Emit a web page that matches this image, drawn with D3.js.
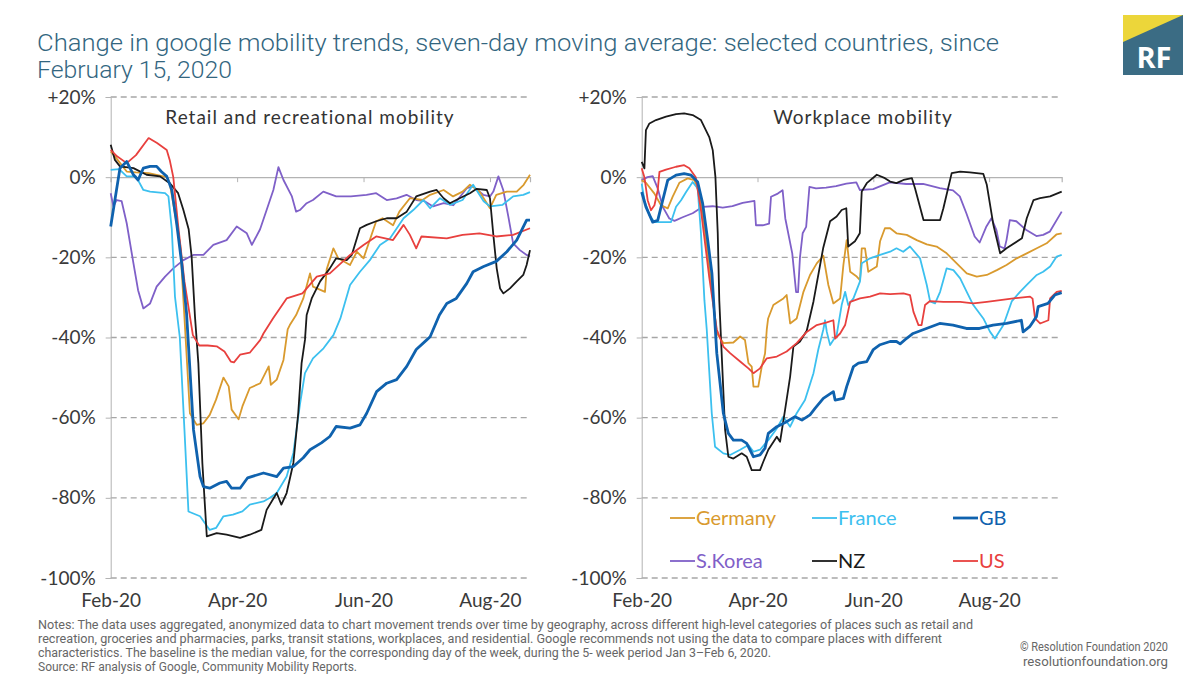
<!DOCTYPE html>
<html><head><meta charset="utf-8">
<script src="https://cdn.jsdelivr.net/npm/d3@7"></script>
<style>
html,body{margin:0;padding:0;background:#fff;}
svg{display:block;}
</style></head>
<body>
<svg id="chart" width="1200" height="675"></svg>
<script>
// ---------- DATA (days since 15 Feb 2020, % change) ----------
const countries = ["Germany","France","GB","S.Korea","NZ","US"];
const colors = ["#d99a2e","#3cc0ef","#0f62ae","#7f60c8","#1a1a1a","#e8403e"];
const yTicks = [20,0,-20,-40,-60,-80,-100];
const yTickLabels = ["+20%","0%","-20%","-40%","-60%","-80%","-100%"];
const xTickDays = [0,60,120,180];

const retailGermany = [[0,6.4],[3,4.5],[7.6,1.4],[12,1.2],[18,1],[26.6,0],[28,-1.5],[30.5,-9],[33,-17],[35,-35],[37.6,-58.9],[40.8,-61.8],[44,-61.4],[47,-59.3],[50,-55.5],[53.5,-50],[56,-52.2],[57.4,-58],[60.7,-60.4],[62.5,-57.2],[66,-52.6],[71,-51.4],[75,-47.2],[76,-51.8],[78.8,-50.5],[82,-45.6],[84,-38],[85,-36.9],[88,-34.4],[91.4,-30.25],[94.6,-24],[96,-27.3],[101.7,-28.6],[102.5,-23],[105.7,-17.75],[108,-20.25],[113.6,-21.9],[116.8,-18.6],[120,-20.25],[126,-11],[129,-10.25],[134,-12],[137,-8.6],[142,-5.25],[148,-5.7],[151.6,-4.4],[158,-3.2],[162.5,-4.8],[167,-3.6],[170.5,-1.9],[175,-3.6],[180,-7.75],[183,-4.4],[188,-3.6],[192.7,-3.6],[196,-1.9],[199,0.6]];
const retailFrance = [[0,1.8],[4,2],[7.6,0.2],[12,0.2],[15.5,-3.2],[18.7,-3.6],[25.8,-4],[27.4,-4.8],[29,-13],[30.5,-29.8],[32.8,-40],[35,-63],[36.9,-83.4],[42.4,-84.6],[47,-88],[50,-87.5],[53.5,-84.6],[58,-84.2],[62.5,-83.4],[66,-81.7],[72.5,-80.9],[75.6,-80],[78.8,-78.8],[83.5,-74.7],[86.7,-68.8],[89.9,-56.4],[92.2,-48.9],[96,-45.2],[101,-42.7],[105.7,-39.4],[109,-35.25],[113.6,-26.9],[118.3,-23.6],[123,-20.7],[127.8,-16.9],[132.6,-15.25],[139,-10.25],[143.6,-8.2],[148.4,-5.7],[151.6,-7.75],[156.3,-5.25],[161,-6.9],[167,-5.7],[172,-1.9],[177,-6],[180,-7.3],[186,-6.9],[191,-4.8],[195.8,-4.4],[199,-3.75]];
const retailGB = [[0,-12.3],[4.4,2.25],[7.6,3.9],[10.8,0.6],[13,-0.7],[15.5,2.25],[18.7,2.7],[21.8,2.7],[24,1.4],[26.6,0.2],[29,-3.2],[31.3,-11.5],[33.7,-21.5],[36,-34],[39.3,-63],[42.4,-74.7],[44,-77.2],[47,-77.6],[51.8,-76.3],[55,-75.9],[57.4,-77.6],[61.4,-77.6],[65,-75],[72.5,-73.8],[78.8,-74.7],[82,-72.6],[86.7,-72.2],[91.4,-70],[94.6,-68],[100,-66.3],[104,-64.7],[107,-62.2],[113.6,-62.6],[118.3,-61.8],[121.5,-58.9],[126.2,-53.5],[131,-51.4],[135.7,-50.5],[140.5,-47.2],[145,-43],[150,-40.6],[151.6,-39.8],[156,-34.4],[159.5,-31.5],[164,-30.25],[169,-26.5],[172,-23.6],[177,-22.3],[183,-21],[188,-18.6],[192.7,-15.7],[197.4,-10.7],[199,-10.7]];
const retailSKorea = [[0,-4],[1.3,-7.3],[2.8,-5.7],[5.2,-6],[7.6,-11.5],[10.8,-21.5],[13,-28.2],[15.5,-32.75],[18.7,-31.5],[21.8,-27.3],[25.8,-24.8],[29.7,-22.75],[34.5,-20.7],[39.2,-19.4],[44,-19.4],[48.7,-16.9],[55,-15.7],[59.8,-12.3],[64.6,-14],[67,-16.9],[70.9,-13],[74,-8.2],[77.2,-3.2],[79.6,2.5],[82,-0.7],[86,-4.8],[88,-8.6],[89.8,-8.2],[93,-6.5],[96,-5.7],[100.9,-3.6],[107,-4.8],[114,-4.8],[121.4,-4.4],[126,-4],[131,-5.7],[135.7,-5.3],[140.4,-4.4],[145,-5.7],[149,-6],[153,-7.3],[158,-6.5],[162.6,-7],[169,-2.75],[172,-2.3],[176.8,-4.4],[180,-4.8],[181.6,-3.6],[184,0.2],[186.3,-3.2],[188.7,-9.8],[191,-16.5],[194.2,-18.2],[197.4,-19.4],[199,-19.8]];
const retailNZ = [[0,8.1],[2,4.3],[4.4,2.7],[10.8,2.25],[17,0.6],[23.4,0.2],[28,-1.5],[32,-4],[34.5,-8.2],[37,-13],[38.4,-19.8],[40,-34.8],[41.6,-46.4],[43.5,-71.3],[45.6,-89.6],[50.3,-88.8],[55,-89.2],[61.4,-90],[66,-89.2],[71.5,-88],[74,-83],[78.8,-78.8],[81,-81.7],[83.5,-78.8],[86.7,-71.3],[89,-58.9],[90.6,-46.4],[92.2,-40.6],[93,-34.4],[95.4,-30.25],[99.4,-26],[104,-22.75],[107,-20.25],[112,-20.7],[114.4,-19.4],[118.3,-12.75],[121.5,-11.9],[126,-11],[131,-10.25],[135.7,-10.25],[140.5,-8.6],[145,-4.8],[151.6,-3.6],[154.7,-3.2],[158,-5.25],[161,-6.5],[165.6,-5.25],[170.5,-4],[173.7,-2.9],[178.5,-3.2],[180,-5.25],[181.6,-14.4],[183.2,-22.75],[184.8,-27.75],[186.4,-29],[189.5,-27.75],[192.7,-26],[195.8,-24.4],[197.4,-21.9],[199,-18.2]];
const retailUS = [[0,6.8],[3,5.2],[7.6,3.5],[12,5.5],[18,9.75],[22,8.5],[26.6,6.8],[28,4.3],[29.7,0],[32,-12],[35,-26],[39,-39.4],[42,-42],[46,-42],[50.3,-42.2],[54,-43.5],[57,-46],[58.5,-46.2],[61.4,-44.3],[66,-43.8],[71,-40.6],[72.5,-39],[77,-35.25],[83.5,-30.25],[91,-29],[97.8,-24.8],[104,-24],[113.6,-19.4],[120,-16.9],[126,-14.8],[134,-15.7],[139,-11.9],[142,-14.4],[145,-17.75],[147.5,-14.8],[159.5,-15.25],[167,-14.4],[175,-14],[183,-14.8],[191,-14.4],[199,-12.75]];

const workGermany = [[0,-0.75],[2.2,-1.4],[6.6,-4.1],[10,-7],[13.5,-7.8],[16,-4.9],[19.5,-1.4],[23.8,-0.3],[27.3,-0.75],[29.9,-4.1],[32.5,-12.4],[35,-22.4],[38.9,-38.9],[42.3,-41.4],[47.5,-41.25],[51,-39.75],[53.5,-40.6],[55.3,-46.4],[57,-47.25],[57.9,-52.25],[60.4,-52.25],[62.2,-47.25],[63.9,-44],[64.8,-38],[65.5,-35.25],[68.2,-31.9],[73.4,-30.25],[75.1,-29.4],[76.9,-36.5],[80.3,-35.25],[83.8,-28.6],[87.2,-24.4],[90.7,-21.5],[94.1,-19.6],[96.7,-26.9],[99.3,-31.5],[102.8,-30.25],[104.5,-21.9],[106.2,-15.7],[108,-23.6],[111.4,-24.8],[113.1,-25.7],[114,-17.75],[115.7,-17.75],[117.4,-23.6],[121.8,-22.3],[123.5,-16],[126,-12.75],[128.7,-12.75],[132,-14],[137.3,-14.4],[142.5,-15.7],[147.7,-16.75],[152.8,-17.3],[158,-19],[163.2,-21.5],[168.4,-24],[173.6,-24.8],[178.8,-24.4],[184,-23.2],[189,-21.9],[194.3,-20.25],[199.5,-19],[204.7,-17.75],[209.8,-16.5],[215,-14.25],[217.6,-14]];
const workFrance = [[0,-1.6],[1.4,-5.75],[4,-9.5],[6.6,-11.2],[10.9,-11.2],[15.2,-11.2],[17.8,-7.4],[20.4,-5.75],[23,-3.7],[26.4,-1.2],[29,-2.8],[30.7,-14],[32.5,-30.75],[33.7,-38],[36.3,-58.9],[38,-67.25],[42.3,-68.9],[45.8,-69.3],[51,-68],[55.3,-66.8],[57.9,-68.5],[61.3,-68],[65.6,-65.6],[70,-62.7],[73.4,-59.75],[76.9,-62.25],[80.3,-58.9],[84.6,-55.6],[89,-48.9],[91.5,-43],[94.1,-38],[95,-35.7],[95.9,-38.6],[97.6,-41.9],[101,-39.4],[103.6,-31.9],[105.4,-28.6],[107,-31.9],[109.7,-30.25],[113.1,-26],[114,-21.5],[118.3,-20.25],[123.5,-19.4],[128.7,-18.6],[132,-17.75],[135.5,-18.6],[139,-17.3],[144.2,-20.25],[147.7,-26.9],[149.4,-31],[152,-31.5],[154.6,-28.6],[158,-22.75],[161.5,-23.2],[165,-25.25],[168.4,-28.6],[171.8,-31.9],[177,-35.25],[180.5,-38.6],[183,-40.25],[187.4,-36.9],[191.7,-31],[196,-28.6],[199.5,-26.9],[204.7,-24.4],[208,-23.6],[211.6,-22.3],[215,-19.8],[217.6,-19.4]];
const workGB = [[0,-3.7],[2.2,-7.4],[5.7,-11.2],[8.3,-10.8],[10.9,-5.75],[13.5,-0.75],[17.8,0.5],[22,0.9],[25.6,0.5],[29,-1.2],[31.6,-6.6],[34.2,-15.75],[36.4,-24.1],[38.9,-43.9],[42.3,-58.9],[44.9,-63.9],[47.5,-65.6],[51.8,-65.6],[54.4,-66.4],[57.9,-69.75],[61.3,-69.3],[63.9,-67.6],[65.6,-63.9],[70,-62.25],[75.1,-61],[79.4,-59.75],[83,-60.6],[87.2,-59.3],[89.8,-57.7],[94.1,-55.2],[99.3,-53.5],[100.2,-55.6],[104.5,-55.2],[106.2,-52.25],[109.7,-47.25],[112.3,-46.4],[116.6,-46],[120,-43],[123.5,-41.8],[128.7,-41],[132,-41],[133.9,-41.6],[137.3,-40.2],[140.6,-39],[147.5,-37.75],[154.4,-36.5],[161.3,-36.9],[168.2,-37.75],[175,-37.75],[182,-36.9],[189,-36.5],[196.7,-35.7],[197.6,-38.6],[201,-37.3],[204.5,-34.8],[205.4,-32.3],[210.5,-31.5],[214,-29.4],[217.6,-28.8]];
const workSKorea = [[0,-0.75],[3,0],[5.7,0.25],[8.3,-2.8],[10.9,-7.4],[14.3,-10.3],[17,-10.9],[21.2,-10],[26.4,-9],[31.6,-7.4],[36.8,-7.25],[42,-7.6],[47,-7.25],[52.3,-6.4],[58.4,-5.9],[59.2,-12],[62.7,-12],[66,-11.6],[67,-4.9],[70.5,-4.1],[73,-3.25],[74.4,-10.3],[78,-19],[80,-28.7],[81,-28.7],[82,-20],[83.4,-14],[85.2,-12.4],[86.9,-2.4],[90.3,-2.8],[95.5,-2.6],[100.7,-2.25],[106,-1.6],[111.2,-1.3],[113,-3.2],[119.9,-3],[128.5,-1.3],[137,-1.7],[145.8,-1.7],[154.4,-2.75],[161.3,-3.3],[164.8,-4.8],[168.2,-9],[172.5,-14.8],[175.1,-16.3],[178.6,-12.3],[181.2,-10.25],[183.8,-13.2],[185.5,-17.3],[188,-17.75],[189,-15.7],[190.7,-10.7],[194.1,-11],[199.3,-13.2],[204.5,-14.7],[208,-14.4],[211.4,-13.6],[217.6,-8.6]];
const workNZ = [[0,3.8],[1.4,2.2],[2.2,11.75],[4,13.4],[7.4,14.25],[12.6,15.1],[17.8,15.75],[22,15.9],[26.4,15.5],[30.7,14.25],[35,10],[36.8,6.75],[38.2,0],[39.4,-14],[40.2,-30.75],[43.2,-63],[44.9,-69.75],[47.5,-70.2],[51.8,-68.9],[54.4,-69.75],[57,-73.1],[61.3,-73.1],[63,-71],[65.6,-68],[70,-64.75],[71.7,-66],[74.3,-58],[76.9,-49.75],[78.6,-42.25],[82,-41],[85.5,-38.3],[89,-31],[94,-17.75],[97.6,-11],[101,-9.8],[103.6,-8.2],[106,-7.75],[107,-17.3],[110.5,-16],[113,-14],[114,-3.6],[116.6,-1.5],[121.8,0.6],[126,-0.25],[128.7,-1.1],[132,-1.5],[135.6,-0.7],[140,-0.25],[141.6,-2.75],[146,-10.7],[154.6,-10.7],[156.3,-7.75],[160.6,1],[165,1.4],[170,1.2],[177,0.8],[178.8,-1.9],[182.2,-11.9],[185.7,-19],[189,-17.75],[197,-15.25],[199.5,-10.25],[203,-5.7],[206.4,-5.25],[211.6,-4.8],[217.6,-3.6]];
const workUS = [[0,2.2],[1.4,0],[3.1,-5.75],[4.8,-8.25],[6.6,-7],[8.3,-3.25],[9.2,1.3],[12.6,1.9],[17.8,2.6],[22,3],[24.7,2.2],[28,0],[30.7,-8.25],[33.3,-18.3],[35,-25],[38.9,-38],[42.3,-42.25],[45.8,-43.9],[51,-46],[55.3,-47.7],[57.9,-48.9],[61.3,-47.7],[64.8,-45.2],[70,-44.75],[75.1,-43.5],[80.3,-41.4],[85.5,-38.6],[90.7,-36.9],[95.9,-36.25],[99.3,-35.7],[100.2,-40.25],[102.8,-39],[105.4,-36.9],[108,-31.1],[113.1,-30.25],[118.3,-29.8],[123.5,-29],[128.7,-29.2],[135.6,-29],[139,-29.4],[140.8,-33.6],[143.4,-36.9],[145,-36.9],[146.8,-31.9],[149.4,-30.9],[156.3,-31.1],[165,-31.1],[171.8,-31.5],[178.8,-31.1],[185.7,-30.7],[192.6,-30.25],[201.2,-29.8],[202.5,-30.3],[203.8,-35.25],[206.4,-36.5],[210.7,-35.7],[211.6,-30.25],[215,-28.6],[217.6,-28.4]];

const retailSeries = [retailGermany, retailFrance, retailGB, retailSKorea, retailNZ, retailUS];
const workSeries = [workGermany, workFrance, workGB, workSKorea, workNZ, workUS];

const titleLines = ["Change in google mobility trends, seven-day moving average: selected countries, since","February 15, 2020"];
const panelTitles = ["Retail and recreational mobility","Workplace mobility"];
const notesLines = [
 "Notes: The data uses aggregated, anonymized data to chart movement trends over time by geography, across different high-level categories of places such as retail and",
 "recreation, groceries and pharmacies, parks, transit stations, workplaces, and residential. Google recommends not using the data to compare places with different",
 "characteristics. The baseline is the median value, for the corresponding day of the week, during the 5- week period Jan 3–Feb 6, 2020.",
 "Source: RF analysis of Google, Community Mobility Reports."];

// ---------- DRAWING ----------
const svg = d3.select("#chart");
const FONT = "Lato, 'Open Sans', sans-serif";
const base = new Date(2020,1,15);
const toDate = d => new Date(base.getTime() + d*864e5);
const fmt = d3.timeFormat("%b-%y");

// title
const tEl = svg.append("g").attr("font-family","Roboto, sans-serif").attr("font-weight",300).attr("fill","#33667f").attr("font-size",24);
tEl.append("text").attr("x",37).attr("y",51).attr("textLength",962).attr("lengthAdjust","spacingAndGlyphs").text(titleLines[0]);
tEl.append("text").attr("x",37).attr("y",78).attr("textLength",195).attr("lengthAdjust","spacingAndGlyphs").text(titleLines[1]);

// logo
const logo = svg.append("g");
logo.append("rect").attr("x",1123).attr("y",15).attr("width",60).attr("height",60).attr("fill","#3b6c84");
logo.append("path").attr("d","M1123,15L1183,15L1123,42Z").attr("fill","#ecd63a");
logo.append("text").attr("x",1154).attr("y",68).attr("text-anchor","middle").attr("font-family","'Open Sans', sans-serif").attr("font-weight",700).attr("font-size",29).attr("fill","#fff").text("RF");

function panel(x0, x1, lastDay, series, title, titleX){
  const x = d3.scaleTime().domain([base, toDate(lastDay)]).range([x0, x1]);
  const y = d3.scaleLinear().domain([-100,20]).range([578,97]);
  const g = svg.append("g");
  // gridlines
  g.selectAll("line.grid").data(yTicks.filter(v=>v!==0)).join("line")
    .attr("x1",x0).attr("x2",x1).attr("y1",d=>y(d)).attr("y2",d=>y(d))
    .attr("stroke","#a6a6a6").attr("stroke-width",1.3).attr("stroke-dasharray","6,4");
  // y axis
  const yAxis = d3.axisLeft(y).tickValues(yTicks).tickFormat((d,i)=>yTickLabels[i]).tickSize(5).tickPadding(10);
  const ya = g.append("g").attr("transform",`translate(${x0},0)`).call(yAxis);
  ya.select(".domain").attr("stroke","#b3b3b3");
  ya.selectAll(".tick line").attr("stroke","#b3b3b3");
  ya.selectAll("text").attr("font-family",FONT).attr("font-size",19).attr("fill","#3a3a3a");
  // zero line axis with ticks
  const xAxis = d3.axisBottom(x).tickValues(xTickDays.map(toDate)).tickFormat("").tickSize(5);
  const xa = g.append("g").attr("transform",`translate(0,${y(0)})`).call(xAxis);
  xa.select(".domain").attr("stroke","#b3b3b3").attr("stroke-width",1.2);
  xa.selectAll(".tick line").attr("stroke","#b3b3b3");
  // bottom labels
  const xl = d3.axisBottom(x).tickValues(xTickDays.map(toDate)).tickFormat(fmt).tickSize(0).tickPadding(16);
  const xb = g.append("g").attr("transform",`translate(0,${y(-100)})`).call(xl);
  xb.select(".domain").remove();
  xb.selectAll("text").attr("font-family",FONT).attr("font-size",19).attr("fill","#3a3a3a");
  // panel title
  g.append("text").attr("x",titleX).attr("y",124).attr("text-anchor","middle").attr("font-family",FONT)
    .attr("font-size",19).attr("letter-spacing",1.0).attr("fill","#333").text(title);
  // lines
  const line = d3.line().x(d=>x(toDate(d[0]))).y(d=>y(d[1]));
  const order = [3,0,1,4,5,2];
  order.forEach(i=>{
    g.append("path").datum(series[i]).attr("d",line).attr("fill","none")
      .attr("stroke",colors[i]).attr("stroke-width", i===2?2.8:1.8).attr("stroke-linejoin","round");
  });
  return {x,y,g};
}

panel(110.7, 530, 199, retailSeries, panelTitles[0], 310);
panel(641.7, 1061.7, 217.6, workSeries, panelTitles[1], 863);

// legend
const legX = [670,812,953], legY = [516,559];
const leg = svg.append("g");
countries.forEach((c,i)=>{
  const lx = legX[i%3], ly = legY[Math.floor(i/3)];
  leg.append("line").attr("x1",lx).attr("x2",lx+25).attr("y1",ly+2).attr("y2",ly+2)
    .attr("stroke",colors[i]).attr("stroke-width", i===2?2.8:1.8);
  leg.append("text").attr("x",lx+26).attr("y",ly+9).attr("font-family",FONT).attr("font-size",20)
    .attr("fill",colors[i]).text(c);
});

// notes
const notes = svg.append("g").attr("font-family","Roboto, sans-serif").attr("font-size",12.5).attr("fill","#666");
const nl = [935,904,733,319];
notesLines.forEach((t,i)=>{
  notes.append("text").attr("x",38).attr("y",629+i*14).attr("textLength",nl[i]).attr("lengthAdjust","spacingAndGlyphs").text(t);
});
notes.append("text").attr("x",1168).attr("y",651).attr("text-anchor","end").attr("textLength",148).attr("lengthAdjust","spacingAndGlyphs").text("© Resolution Foundation 2020");
notes.append("text").attr("x",1168).attr("y",666).attr("text-anchor","end").attr("textLength",145).attr("lengthAdjust","spacingAndGlyphs").text("resolutionfoundation.org");
</script>
</body></html>
